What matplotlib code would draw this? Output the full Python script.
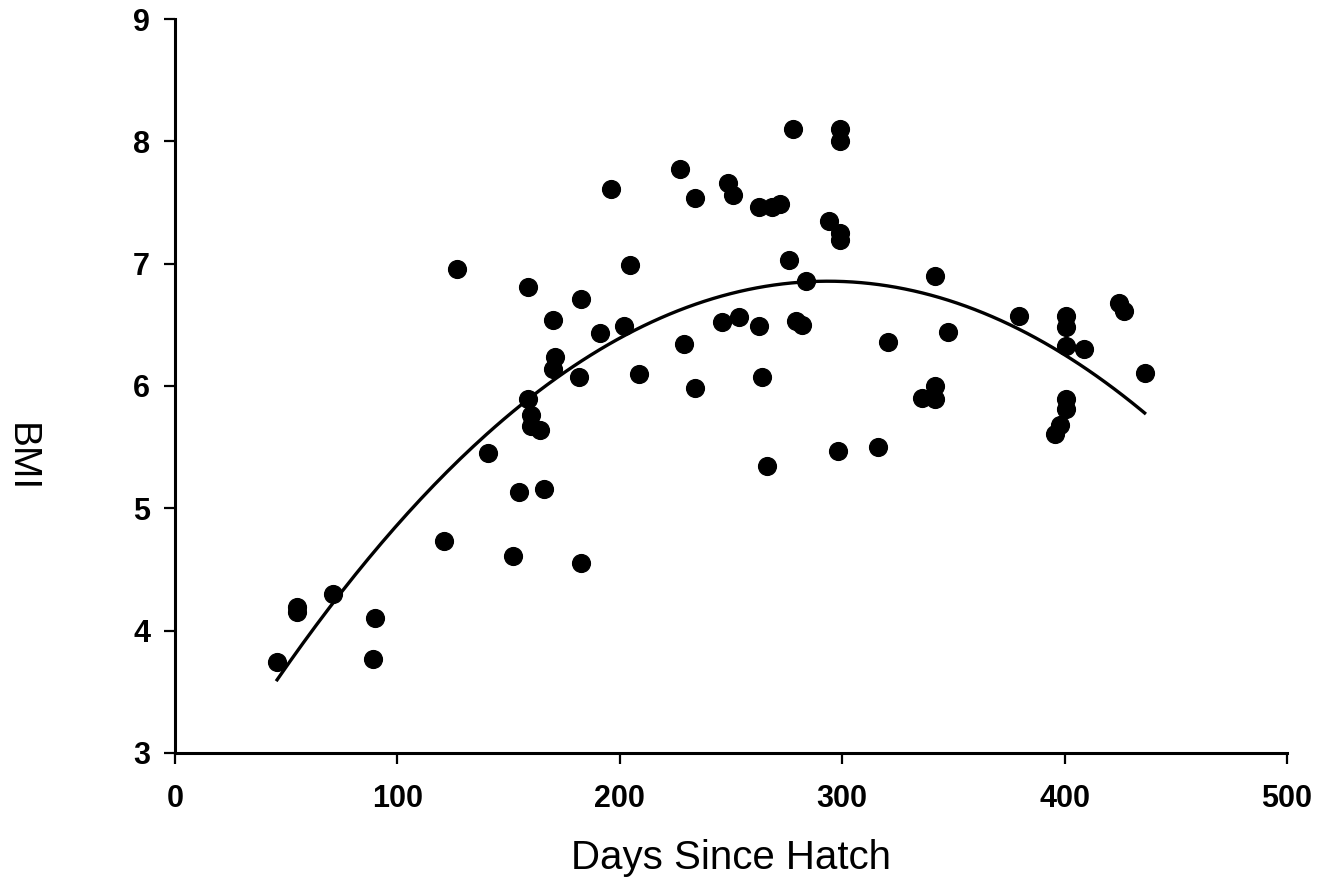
import numpy as np
import matplotlib.pyplot as plt

plt.rcParams['font.family'] = ['Liberation Sans', 'DejaVu Sans']

# days since hatch and BMI
days = [45.9, 54.9, 54.9, 71.0, 89.0, 89.9, 121.0, 126.8, 140.7, 152.0,
        154.7, 158.7, 158.7, 160.1, 160.0, 164.1, 165.9, 170.0, 170.9, 170.0,
        181.7, 182.6, 182.6, 191.0, 196.0, 201.9, 204.6, 208.6, 227.0, 228.9,
        233.8, 233.8, 246.0, 248.7, 250.9, 253.6, 262.6, 262.6, 264.0, 266.2,
        268.4, 272.0, 276.0, 277.9, 279.2, 282.0, 283.7, 294.0, 298.0, 299.0,
        299.0, 299.0, 299.0, 316.0, 320.6, 335.9, 341.7, 341.7, 341.7, 347.6,
        379.5, 395.7, 397.9, 400.6, 400.6, 400.6, 400.6, 400.6, 408.7, 424.5,
        426.7, 436.0]
bmi = [3.74, 4.19, 4.15, 4.30, 3.77, 4.10, 4.73, 6.96, 5.45, 4.61,
       5.13, 6.81, 5.89, 5.76, 5.67, 5.64, 5.16, 6.54, 6.24, 6.14,
       6.07, 6.71, 4.55, 6.43, 7.61, 6.49, 6.99, 6.10, 7.77, 6.34,
       7.54, 5.98, 6.52, 7.66, 7.56, 6.56, 7.46, 6.49, 6.07, 5.35,
       7.46, 7.49, 7.03, 8.10, 6.53, 6.50, 6.86, 7.35, 5.47, 8.10,
       8.00, 7.25, 7.19, 5.50, 6.36, 5.90, 6.00, 5.89, 6.90, 6.44,
       6.57, 5.61, 5.68, 6.57, 6.48, 6.33, 5.89, 5.81, 6.30, 6.68,
       6.61, 6.11]

x_ticks = [0, 100, 200, 300, 400, 500]
y_ticks = [3, 4, 5, 6, 7, 8, 9]

days = np.array(days)
bmi = np.array(bmi)

# quadratic trend line
coef = np.polyfit(days, bmi, 2)
xs = np.linspace(days.min(), days.max(), 200)
ys = np.polyval(coef, xs)

fig = plt.figure(figsize=(13.22, 8.84), dpi=100)
ax = fig.add_axes([0.1324, 0.1482, 0.8411, 0.8303])

ax.plot(days, bmi, 'o', color='black', markersize=12.8, zorder=3)
ax.plot(xs, ys, color='black', linewidth=2.4, zorder=2)

ax.set_xlim(0, 500)
ax.set_ylim(3, 9)
ax.set_xticks(x_ticks)
ax.set_yticks(y_ticks)
ax.spines['top'].set_visible(False)
ax.spines['right'].set_visible(False)
for s in ['left', 'bottom']:
    ax.spines[s].set_linewidth(2.2)
ax.tick_params(axis='both', direction='out', length=8, width=1.6, labelsize=22)
ax.tick_params(axis='x', pad=14)
ax.tick_params(axis='y', pad=10)
for lab in ax.get_xticklabels() + ax.get_yticklabels():
    lab.set_fontweight('bold')

ax.set_xlabel('Days Since Hatch', fontsize=29, labelpad=18)
ax.set_ylabel('BMI', fontsize=28, rotation=270, va='center', ha='center')
ax.yaxis.set_label_coords(-0.139, 0.402)

plt.savefig('out.png', dpi=100)
